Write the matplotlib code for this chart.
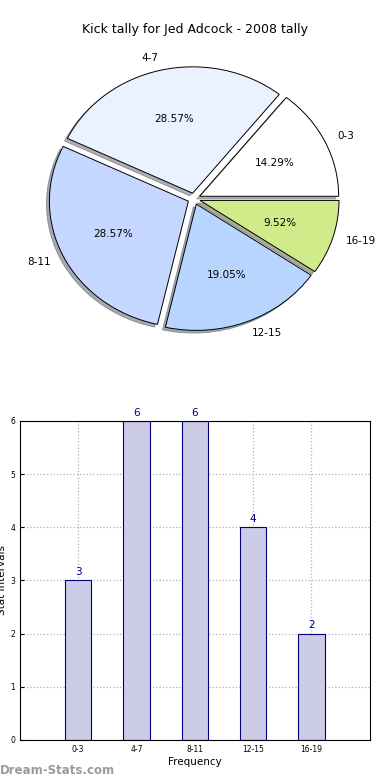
import matplotlib
matplotlib.use('Agg')
import matplotlib.pyplot as plt

# data
categories = ['0-3', '4-7', '8-11', '12-15', '16-19']
counts = [3, 6, 6, 4, 2]
pie_colors = ['#ffffff', '#eaf1ff', '#c5d7ff', '#b7d5ff', '#d0eb8a']

fig = plt.figure(figsize=(3.9, 7.8), dpi=100)

# pie on top (old style, slightly stretched horizontally)
ax1 = fig.add_axes([0.052, 0.5427, 0.891, 0.405])
ax1.pie(counts, labels=categories, colors=pie_colors, autopct='%.2f%%',
        explode=[0.045] * len(counts),
        shadow={'ox': -0.015, 'oy': -0.015, 'shade': 0.6}, startangle=0,
        labeldistance=1.1, pctdistance=0.6,
        wedgeprops={'edgecolor': 'black', 'linewidth': 0.7},
        textprops={'fontsize': 7.5})
ax1.set_aspect('auto')
fig.text(0.5, 1 - 30 / 780, 'Kick tally for Jed Adcock - 2008 tally',
         ha='center', va='center', fontsize=9)

# bars below
ax2 = fig.add_axes([0.051, 0.0513, 0.897, 0.409])
xs = range(len(categories))
ax2.bar(xs, counts, width=0.45, color='#cccce6', edgecolor='#000080',
        linewidth=0.8, zorder=2)
for x, c in zip(xs, counts):
    ax2.text(x, c + 0.06, str(c), ha='center', va='bottom', color='#000080',
             fontsize=7.5)
ax2.set_xlim(-1, 5)
ax2.set_ylim(0, 6)
ax2.set_xticks(list(xs))
ax2.set_xticklabels(categories)
ax2.set_yticks(range(7))
ax2.tick_params(labelsize=5.5, length=3, direction='in')
ax2.grid(linestyle=':', color='#b0b0b0', linewidth=0.9, zorder=3)
for sp in ax2.spines.values():
    sp.set_zorder(5)
ax2.set_xlabel('Frequency', fontsize=7.5, labelpad=2)
ax2.set_ylabel('Stat Intervals', fontsize=7.5, labelpad=2)

fig.text(0.0, 1 - 771 / 780, 'Dream-Stats.com', ha='left', va='center',
         fontsize=8.5, color='#9a9a9a', fontweight='bold')

fig.savefig('out.png', dpi=100)
